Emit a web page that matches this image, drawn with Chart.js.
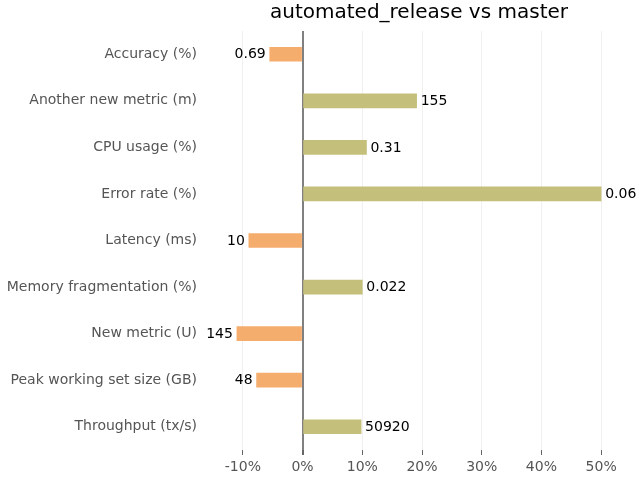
<!DOCTYPE html>
<html><head><meta charset="utf-8">
<script src="https://cdn.jsdelivr.net/npm/chart.js@4/dist/chart.umd.min.js"></script>
<style>html,body{margin:0;padding:0;background:#fff}#wrap{width:640px;height:480px}</style>
</head><body><div id="wrap"><canvas id="c" width="640" height="480"></canvas></div>
<script>
const categories = ['Accuracy (%)','Another new metric (m)','CPU usage (%)','Error rate (%)','Latency (ms)','Memory fragmentation (%)','New metric (U)','Peak working set size (GB)','Throughput (tx/s)'];
const changePct = [-5.5, 19.1, 10.7, 50.0, -9.0, 10.0, -11.0, -7.7, 9.8];
const valueLabels = ['0.69','155','0.31','0.06','10','0.022','145','48','50920'];
const xTicks = [-10, 0, 10, 20, 30, 40, 50];
const titleText = 'automated_release vs master';

const FONT = "'DejaVu Sans', sans-serif";
const posColor = '#c4c07b', negColor = '#f5ad6e';

const valuePlugin = {
  id: 'vals',
  afterDatasetsDraw(chart) {
    const ctx = chart.ctx, meta = chart.getDatasetMeta(0);
    ctx.save();
    ctx.font = "14px " + FONT;
    ctx.fillStyle = '#000';
    ctx.textBaseline = 'middle';
    meta.data.forEach((bar, i) => {
      const v = changePct[i];
      if (v < 0) { ctx.textAlign = 'right'; ctx.fillText(valueLabels[i], bar.x - 4, bar.y + 0.5); }
      else { ctx.textAlign = 'left'; ctx.fillText(valueLabels[i], bar.x + 4, bar.y + 0.5); }
    });
    ctx.restore();
  }
};
const titlePlugin = {
  id: 'ttl',
  afterDraw(chart) {
    const ctx = chart.ctx, a = chart.chartArea;
    ctx.save();
    ctx.font = "20px " + FONT;
    ctx.fillStyle = '#000';
    ctx.textAlign = 'center';
    ctx.textBaseline = 'middle';
    ctx.fillText(titleText, (a.left + a.right) / 2 - 3, 13);
    ctx.restore();
  }
};

new Chart(document.getElementById('c'), {
  type: 'bar',
  data: {
    labels: categories,
    datasets: [{
      data: changePct,
      backgroundColor: changePct.map(v => v < 0 ? negColor : posColor),
      barThickness: 14,
      borderWidth: 0
    }]
  },
  options: {
    indexAxis: 'y',
    responsive: false,
    animation: false,
    layout: { padding: { top: 31, right: 9, left: 0, bottom: 0 } },
    plugins: { legend: { display: false }, tooltip: { enabled: false }, title: { display: false } },
    scales: {
      x: {
        min: -15, max: 55,
        afterBuildTicks(s) { s.ticks = xTicks.map(v => ({ value: v })); },
        afterFit(s) { s.height = 30; },
        border: { display: false },
        grid: {
          color: c => c.tick && c.tick.value === 0 ? '#808080' : '#f0f0f0',
          lineWidth: c => c.tick && c.tick.value === 0 ? 2 : 1,
          tickColor: '#666',
          tickLength: 5,
          drawTicks: true
        },
        ticks: { color: '#555', font: { family: FONT, size: 14 }, padding: 4, callback: v => v + '%' }
      },
      y: {
        afterFit(s) { s.width = 213; },
        border: { display: false },
        grid: { display: false, drawTicks: false },
        ticks: { color: '#555', font: { family: FONT, size: 14 }, padding: 16 }
      }
    }
  },
  plugins: [valuePlugin, titlePlugin]
});
</script></body></html>
